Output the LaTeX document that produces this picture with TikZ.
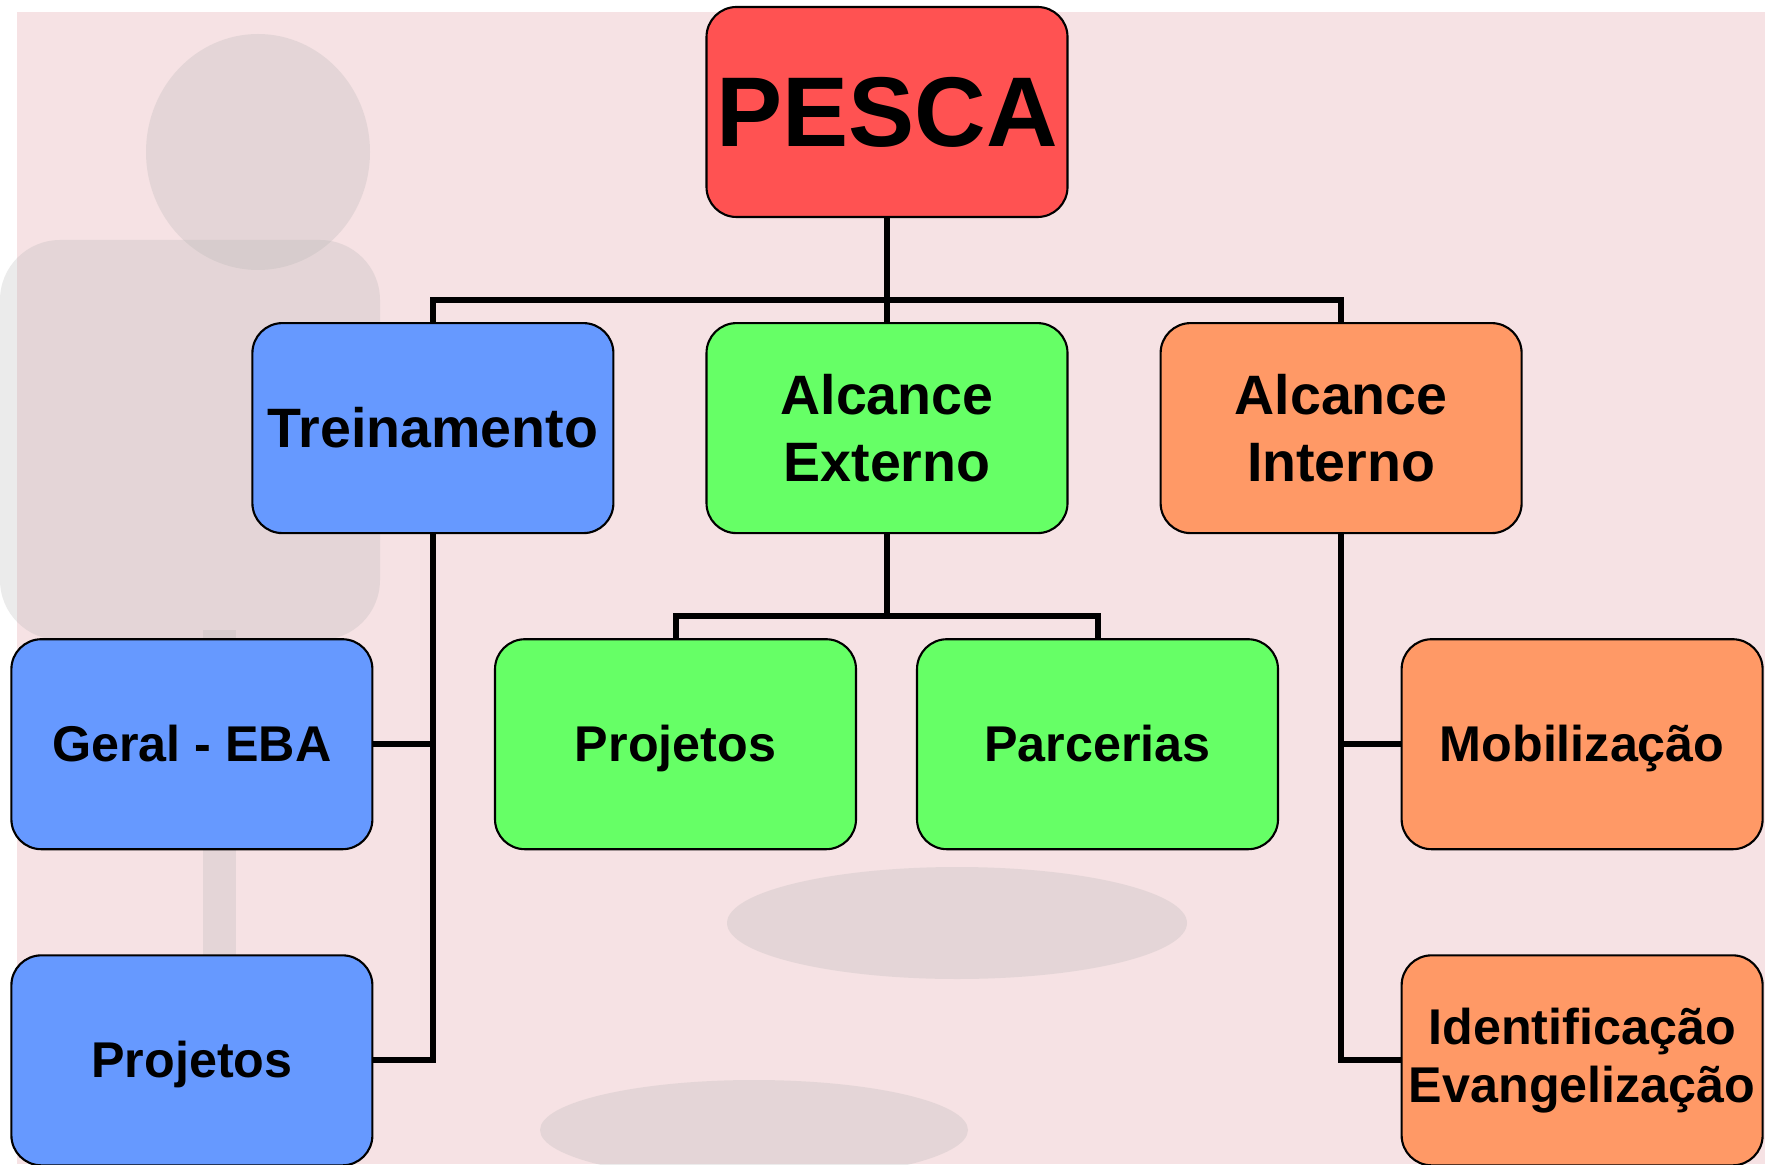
\documentclass[tikz,border=0pt]{standalone}
\usepackage{fontspec}
\setmainfont{Liberation Sans}
\usetikzlibrary{positioning}
\definecolor{pescared}{RGB}{255,82,82}
\definecolor{treinoblue}{RGB}{102,153,255}
\definecolor{externogreen}{RGB}{102,255,102}
\definecolor{internoorange}{RGB}{255,153,102}
\definecolor{fundo}{RGB}{246,226,228}

\begin{document}
\begin{tikzpicture}[node distance=1.04cm and 0.91cm]
\tikzstyle{box} = [rectangle, draw=black, line width=0.6pt, rounded corners=0.3cm, minimum width=3.61cm, minimum height=2.1cm, align=center, inner sep=0pt, font=\bfseries\fontsize{15.8}{19}\selectfont]
\tikzstyle{small}=[font=\bfseries\fontsize{14.3}{16.5}\selectfont, text height=13pt, text depth=3.2pt]
\tikzstyle{twoline}=[font=\bfseries\fontsize{14.3}{16.5}\selectfont]
\tikzstyle{link}=[line width=1.7pt,
                                  draw=black]
\tikzstyle{blob}=[fill=gray!60,
                                  opacity=0.25]
% fundo
\useasboundingbox (0,0) rectangle (17.65,-11.64);
\fill[white] (0,0) rectangle (17.65,-11.64);
\fill[fundo] (0.17,-0.12) rectangle (17.65,-11.64);
\fill[blob] (2.58,-1.52) ellipse (1.12 and 1.18);
\fill[blob, rounded corners=0.6cm] (0,-2.4) rectangle (3.8,-6.4);
\fill[blob] (2.03,-6.3) rectangle (2.36,-9.6);
\fill[blob] (9.57,-9.23) ellipse (2.3 and 0.56);
\fill[blob] (7.54,-11.3) ellipse (2.14 and 0.5);
% caixas
\node[box, fill=pescared, font=\bfseries\fontsize{28.2}{32}\selectfont] (pesca) at (8.87,-1.12) {PESCA};
\node[box, fill=externogreen][below=of pesca](externo){Alcance\\Externo};
\node[box, fill=treinoblue][left=of externo](treino){Treinamento};
\node[box, fill=internoorange][right=of externo](interno){Alcance\\Interno};
\node[box, small, fill=externogreen][below=of externo, xshift=-2.115cm](projetos){Projetos};
\node[box, small, fill=externogreen][below=of externo, xshift=2.105cm](parcerias){Parcerias};
\node[box, small, fill=treinoblue][below=of treino, xshift=-2.41cm](geral){Geral - EBA};
\node[box, small, fill=treinoblue][below=of geral](projtreino){Projetos};
\node[box, small, fill=internoorange][below=of interno, xshift=2.41cm](mobil){Mobilização};
\node[box, twoline, fill=internoorange][below=of mobil](identif){Identificação\\Evangelização};
% ligacoes
\coordinate[below=0.82cm of pesca] (barra);
\coordinate[below=0.82cm of externo] (barra2);
\draw[link] (pesca.south) -- (externo.north);
\draw[link] (treino.north) |- (barra) -| (interno.north);
\draw[link] (externo.south) -- (barra2);
\draw[link] (projetos.north) |- (barra2) -| (parcerias.north);
\draw[link] (treino.south) |- (projtreino.east);
\draw[link] (geral.east) -- (geral.east -| treino.south);
\draw[link] (interno.south) |- (identif.west);
\draw[link] (mobil.west) -- (mobil.west -| interno.south);
\end{tikzpicture}
\end{document}
